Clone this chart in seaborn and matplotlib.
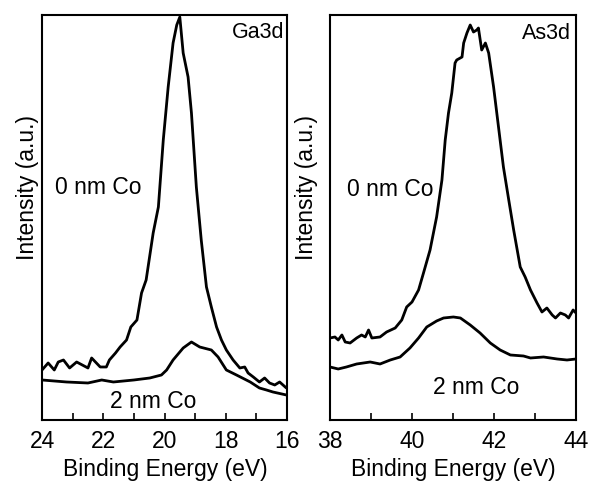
import numpy as np
import pandas as pd
import matplotlib
matplotlib.use("Agg")
import matplotlib.pyplot as plt
import seaborn as sns

# Ga3d panel
ga_x0 = [24.0, 23.8, 23.6, 23.47, 23.3, 23.1, 22.87, 22.5, 22.38, 22.1, 21.9, 21.8, 21.6, 21.45, 21.24,
         21.1, 20.9, 20.75, 20.6, 20.37, 20.2, 20.04, 19.88, 19.72, 19.6, 19.5, 19.39, 19.23, 19.12, 18.96,
         18.8, 18.63, 18.47, 18.3, 18.14, 17.98, 17.76, 17.54, 17.38, 17.27, 17.1, 16.9, 16.73, 16.57, 16.4,
         16.24, 16.02]
ga_y0 = [50, 57, 50, 58, 60, 52, 58, 52, 62, 53, 53, 60, 67, 73, 80,
         93, 100, 127, 140, 187, 213, 280, 333, 377, 395, 403, 367, 343, 307, 233,
         180, 133, 113, 93, 80, 70, 60, 52, 53, 47, 43, 38, 42, 37, 35,
         38, 32]
ga_x2 = [24.0, 23.2, 22.5, 22.05, 21.67, 21.0, 20.48, 20.1, 19.93, 19.72, 19.39, 19.12, 18.85, 18.47,
         18.25, 17.98, 17.65, 17.2, 16.9, 16.67, 16.46, 16.02]
ga_y2 = [40, 38, 37, 40, 38, 40, 42, 45, 50, 60, 72, 78, 73, 70,
         63, 50, 45, 38, 32, 30, 28, 25]

# As3d panel
as_x0 = [38.0, 38.12, 38.2, 38.29, 38.37, 38.49, 38.65, 38.77, 38.86, 38.94, 39.02, 39.22, 39.38, 39.59,
         39.75, 39.87, 40.0, 40.16, 40.28, 40.44, 40.6, 40.73, 40.81, 40.89, 40.97, 41.05, 41.09, 41.22,
         41.26, 41.34, 41.42, 41.5, 41.58, 41.62, 41.7, 41.79, 41.87, 41.99, 42.11, 42.23, 42.36, 42.48,
         42.64, 42.76, 42.89, 43.05, 43.17, 43.29, 43.42, 43.5, 43.62, 43.74, 43.82, 43.93, 44.0]
as_y0 = [82, 83, 80, 85, 78, 77, 82, 85, 83, 90, 82, 83, 88, 92,
         100, 113, 118, 130, 147, 170, 203, 240, 280, 307, 327, 357, 360, 363,
         377, 387, 395, 388, 390, 392, 370, 377, 367, 333, 293, 253, 220, 190,
         153, 143, 130, 117, 108, 112, 105, 102, 107, 105, 102, 110, 107]
as_x2 = [38.0, 38.2, 38.4, 38.65, 38.98, 39.22, 39.47, 39.71, 39.95, 40.16, 40.36, 40.6, 40.77, 41.01,
         41.18, 41.42, 41.66, 41.91, 42.15, 42.4, 42.72, 42.89, 43.21, 43.54, 43.78, 44.0]
as_y2 = [53, 51, 53, 56, 58, 56, 60, 63, 72, 82, 93, 99, 102, 103,
         102, 95, 87, 77, 70, 65, 64, 62, 63, 61, 60, 61]

sns.set_style("ticks")
plt.rcParams['font.family'] = ['Liberation Sans', 'DejaVu Sans']
plt.rcParams['text.color'] = 'black'
plt.rcParams['axes.labelcolor'] = 'black'
plt.rcParams['xtick.color'] = 'black'
plt.rcParams['ytick.color'] = 'black'

fig = plt.figure(figsize=(5.97, 4.87), dpi=100)
ax1 = fig.add_axes([0.0704, 0.1376, 0.4103, 0.8316])
ax2 = fig.add_axes([0.5528, 0.1376, 0.4120, 0.8316])

df_ga = pd.concat([
    pd.DataFrame({"x": ga_x0, "y": ga_y0, "s": "0 nm Co"}),
    pd.DataFrame({"x": ga_x2, "y": ga_y2, "s": "2 nm Co"}),
])
df_as = pd.concat([
    pd.DataFrame({"x": as_x0, "y": as_y0, "s": "0 nm Co"}),
    pd.DataFrame({"x": as_x2, "y": as_y2, "s": "2 nm Co"}),
])

for ax, df in [(ax1, df_ga), (ax2, df_as)]:
    sns.lineplot(data=df, x="x", y="y", units="s", estimator=None, sort=False,
                 color="black", lw=2.0, ax=ax, legend=False)
    ax.set_ylim(0, 405)
    ax.set_yticks([])
    for sp in ax.spines.values():
        sp.set_linewidth(1.5)
        sp.set_color("black")
    ax.tick_params(axis='x', which='both', direction='in', labelsize=16.5, pad=7, width=1.2,
                   colors='black')
    ax.tick_params(axis='x', which='major', length=5)
    ax.tick_params(axis='x', which='minor', length=5)
    ax.set_xlabel("Binding Energy (eV)", fontsize=16.5, color='black')
    ax.set_ylabel("Intensity (a.u.)", fontsize=16.5, color='black')
    ax.xaxis.set_label_coords(0.502, -0.094)

ax1.set_xlim(24, 16)
ax1.set_xticks([24, 22, 20, 18, 16])
ax1.set_xticks([23, 21, 19, 17], minor=True)
ax1.yaxis.set_label_coords(-0.012, 0.573)
ax1.text(0.99, 0.958, "Ga3d", transform=ax1.transAxes, ha='right', va='center', fontsize=15.5)
ax1.text(23.58, 232, "0 nm Co", ha='left', va='center', fontsize=16.5)
ax1.text(21.78, 18, "2 nm Co", ha='left', va='center', fontsize=16.5)

ax2.set_xlim(38, 44)
ax2.set_xticks([38, 40, 42, 44])
ax2.set_xticks([39, 41, 43], minor=True)
ax2.yaxis.set_label_coords(-0.049, 0.575)
ax2.text(0.98, 0.955, "As3d", transform=ax2.transAxes, ha='right', va='center', fontsize=15.5)
ax2.text(38.41, 230, "0 nm Co", ha='left', va='center', fontsize=16.5)
ax2.text(40.51, 32, "2 nm Co", ha='left', va='center', fontsize=16.5)

fig.savefig("out.png", dpi=100)
